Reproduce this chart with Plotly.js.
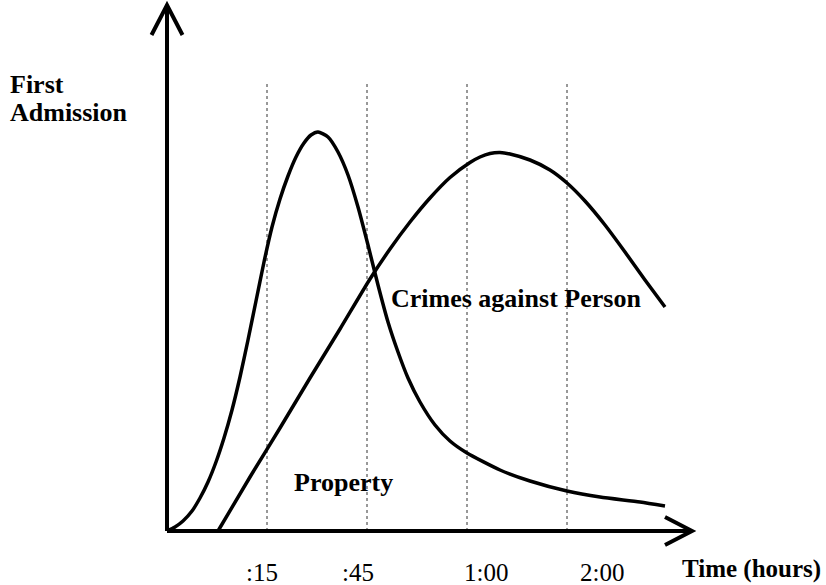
<!DOCTYPE html>
<html>
<head>
<meta charset="utf-8">
<script src="https://cdn.plot.ly/plotly-3.0.1.min.js"></script>
<style>html,body{margin:0;padding:0;background:#fff;}#chart{width:826px;height:585px;}</style>
</head>
<body>
<div id="chart"></div>
<script>
// Time axis units (gridlines at 1..4), admission in arbitrary units
const propertyX = [0, 0.08, 0.16, 0.25, 0.33, 0.41, 0.49, 0.57, 0.65, 0.73, 0.81, 0.89, 0.97, 1.05, 1.13, 1.21, 1.29, 1.37, 1.44, 1.51, 1.61, 1.71, 1.81, 1.91, 2.01, 2.11, 2.21, 2.31, 2.41, 2.53, 2.68, 2.83, 3.00, 3.33, 3.63, 4.00, 4.33, 4.73, 4.98];
const propertyY = [0, 0.08, 0.20, 0.40, 0.66, 0.98, 1.38, 1.86, 2.42, 3.08, 3.82, 4.60, 5.38, 6.08, 6.64, 7.10, 7.48, 7.76, 7.92, 7.98, 7.88, 7.58, 7.12, 6.48, 5.72, 4.92, 4.18, 3.58, 3.06, 2.58, 2.12, 1.80, 1.56, 1.22, 1.00, 0.80, 0.68, 0.58, 0.50];
const personX = [0.51, 0.83, 1.13, 1.43, 1.73, 2.03, 2.23, 2.43, 2.63, 2.83, 3.03, 3.13, 3.23, 3.33, 3.43, 3.63, 3.83, 4.00, 4.18, 4.38, 4.58, 4.78, 4.98];
const personY = [0, 1.08, 2.06, 3.06, 4.04, 5.04, 5.64, 6.18, 6.66, 7.07, 7.37, 7.48, 7.55, 7.57, 7.54, 7.42, 7.22, 6.96, 6.60, 6.12, 5.58, 5.02, 4.48];
const gridX = [1, 2, 3, 4];
const gridTop = 8.96;
const tickPos = [0.95, 1.91, 3.19, 4.35];
const tickLabels = [':15', ':45', '1:00', '2:00'];
const seriesNames = ['Property', 'Crimes against Person'];
const xTitle = 'Time (hours)';
const yTitleLines = ['First', 'Admission'];

const serif = 'Liberation Serif, Times New Roman, serif';
const traces = [];
gridX.forEach(g => traces.push({
  x: [g, g], y: [0, gridTop], mode: 'lines', showlegend: false, hoverinfo: 'skip',
  line: {color: '#333', width: 1, dash: 'dot'}
}));
traces.push({x: propertyX, y: propertyY, mode: 'lines', name: seriesNames[0], showlegend: false,
  line: {color: '#000', width: 3.5, shape: 'spline', smoothing: 0.6}});
traces.push({x: personX, y: personY, mode: 'lines', name: seriesNames[1], showlegend: false,
  line: {color: '#000', width: 3.5, shape: 'spline', smoothing: 0.6}});

const annotations = [];
tickPos.forEach((p, i) => annotations.push({x: p, y: -0.82, xref: 'x', yref: 'y', text: tickLabels[i],
  showarrow: false, font: {family: serif, size: 25, color: '#000'}}));
annotations.push({x: 6.55, y: -1.05, xref: 'x', yref: 'y', text: '<b>' + xTitle + '</b>', showarrow: false,
  xanchor: 'right', yanchor: 'bottom', borderpad: 0, font: {family: serif, size: 25, color: '#000'}});
annotations.push({x: -1.59, y: 8.94, xref: 'x', yref: 'y', text: '<b>' + yTitleLines[0] + '</b>', showarrow: false,
  xanchor: 'left', font: {family: serif, size: 26, color: '#000'}});
annotations.push({x: -1.59, y: 8.38, xref: 'x', yref: 'y', text: '<b>' + yTitleLines[1] + '</b>', showarrow: false,
  xanchor: 'left', font: {family: serif, size: 26, color: '#000'}});
annotations.push({x: 3.49, y: 4.66, xref: 'x', yref: 'y', text: '<b>' + seriesNames[1] + '</b>', showarrow: false,
  font: {family: serif, size: 26, color: '#000'}});
annotations.push({x: 1.76, y: 0.98, xref: 'x', yref: 'y', text: '<b>' + seriesNames[0] + '</b>', showarrow: false,
  font: {family: serif, size: 26, color: '#000'}});

const xMax = 5.25, yMax = 10.52;
const shapes = [
  {type: 'path', xref: 'x', yref: 'y', path: `M 0,0 L ${xMax},0`, line: {color: '#000', width: 4}},
  {type: 'path', xref: 'x', yref: 'y', path: `M 0,0 L 0,${yMax}`, line: {color: '#000', width: 4}},
  {type: 'path', xref: 'x', yref: 'y', path: `M ${xMax-0.27},0.28 L ${xMax},0 L ${xMax-0.27},-0.28`, line: {color: '#000', width: 4}},
  {type: 'path', xref: 'x', yref: 'y', path: `M -0.155,${yMax-0.6} L 0,${yMax} L 0.155,${yMax-0.6}`, line: {color: '#000', width: 4}}
];

const layout = {
  width: 826, height: 585,
  margin: {l: 0, r: 0, t: 0, b: 0},
  paper_bgcolor: '#fff', plot_bgcolor: '#fff',
  showlegend: false,
  xaxis: {range: [-1.67, 6.59], visible: false, fixedrange: true},
  yaxis: {range: [-1.08, 10.62], visible: false, fixedrange: true},
  annotations: annotations,
  shapes: shapes
};
Plotly.newPlot('chart', traces, layout, {displayModeBar: false, staticPlot: true});
</script>
</body>
</html>
